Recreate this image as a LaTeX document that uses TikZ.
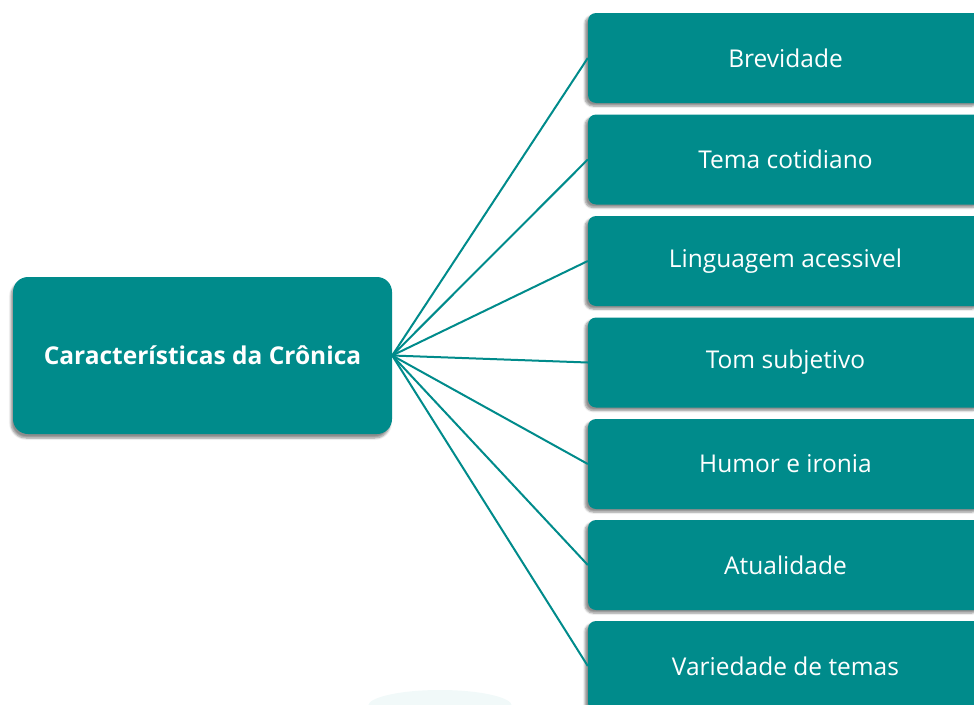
\documentclass[tikz,border=0pt]{standalone}
\usepackage{fontspec}
\setmainfont{Open Sans}
\usetikzlibrary{shadows.blur}
\definecolor{teal1}{HTML}{008B8B}
\definecolor{faint}{HTML}{F1F9F9}
\tikzset{
  hub/.style={rectangle, rounded corners=15pt, fill=teal1, text=white,
    minimum width=379pt, minimum height=157pt, font=\fontsize{24.5}{28}\selectfont\bfseries,
    blur shadow={shadow xshift=-2pt, shadow yshift=-4pt, shadow blur steps=6, shadow opacity=45}},
  leaf/.style={rectangle, rounded corners=8pt, fill=teal1, text=white,
    minimum width=395pt, minimum height=90pt, font=\fontsize{24.5}{28}\selectfont,
    blur shadow={shadow xshift=-3pt, shadow yshift=-3pt, shadow blur steps=6, shadow opacity=45}},
  link/.style={draw=teal1, line width=2pt}
}
\begin{document}
\begin{tikzpicture}[x=1pt,y=-1pt]
\useasboundingbox (0,0) rectangle (974,704);
\clip (0,0) rectangle (974,704);
\fill[faint] (440,706) ellipse (72 and 16);
\node[hub] (c) at (202.5,355.5) {Características da Crônica};
\node[leaf] (n1) at (785.5,58) {Brevidade};
\node[leaf] (n2) at (785.5,159.5) {Tema cotidiano};
\node[leaf] (n3) at (785.5,261) {Linguagem acessivel};
\node[leaf] (n4) at (785.5,362.5) {Tom subjetivo};
\node[leaf] (n5) at (785.5,464) {Humor e ironia};
\node[leaf] (n6) at (785.5,565) {Atualidade};
\node[leaf] (n7) at (785.5,666) {Variedade de temas};
\foreach \i in {1,...,7} {
  \draw[link] (c.east) -- (n\i.west);
}
\end{tikzpicture}
\end{document}
